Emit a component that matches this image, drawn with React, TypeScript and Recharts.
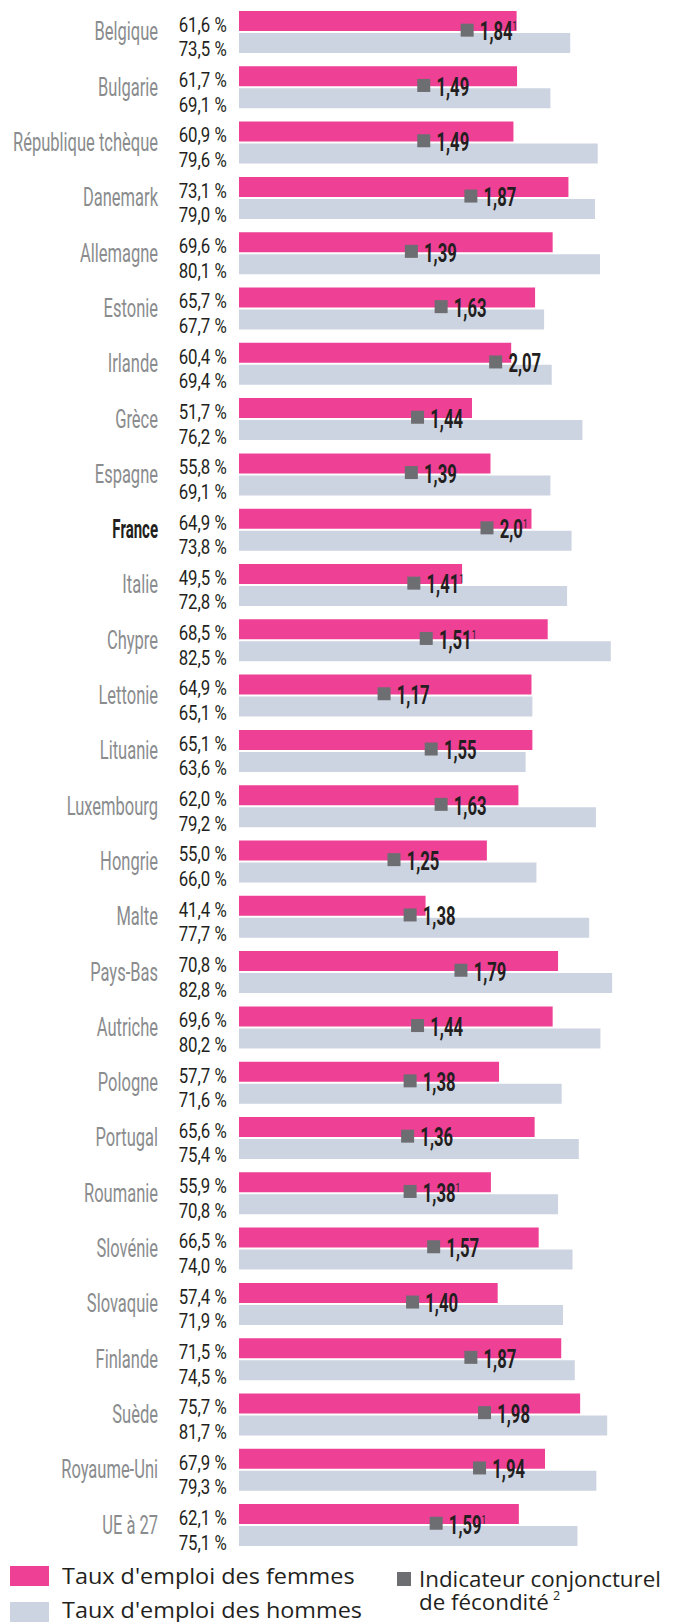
import React from "react";
import { ComposedChart, Bar, Line, XAxis, YAxis, LabelList, Legend } from "recharts";

const countries = ["Belgique","Bulgarie","République tchèque","Danemark","Allemagne","Estonie","Irlande","Grèce","Espagne","France","Italie","Chypre","Lettonie","Lituanie","Luxembourg","Hongrie","Malte","Pays-Bas","Autriche","Pologne","Portugal","Roumanie","Slovénie","Slovaquie","Finlande","Suède","Royaume-Uni","UE à 27"];
const womenRate = [61.6,61.7,60.9,73.1,69.6,65.7,60.4,51.7,55.8,64.9,49.5,68.5,64.9,65.1,62.0,55.0,41.4,70.8,69.6,57.7,65.6,55.9,66.5,57.4,71.5,75.7,67.9,62.1];
const menRate = [73.5,69.1,79.6,79.0,80.1,67.7,69.4,76.2,69.1,73.8,72.8,82.5,65.1,63.6,79.2,66.0,77.7,82.8,80.2,71.6,75.4,70.8,74.0,71.9,74.5,81.7,79.3,75.1];
const fertilityText = ["1,84","1,49","1,49","1,87","1,39","1,63","2,07","1,44","1,39","2,0","1,41","1,51","1,17","1,55","1,63","1,25","1,38","1,79","1,44","1,38","1,36","1,38","1,57","1,40","1,87","1,98","1,94","1,59"];
const fertilityNote = ["1","","","","","","","","","1","1","1","","","","","","","","","","1","","","","","","1"];
const highlighted = "France";

const seriesNames = {
  women: "Taux d'emploi des femmes",
  men: "Taux d'emploi des hommes",
  fert: "Indicateur conjoncturel de fécondité",
};

const data = countries.map((name, i) => ({
  name,
  women: womenRate[i],
  men: menRate[i],
  fert: parseFloat(fertilityText[i].replace(",", ".")),
  fertLabel: fertilityText[i],
  note: fertilityNote[i],
}));

const PINK = "#EE4196";
const GREY = "#CDD4E1";
const MARK = "#6D6E71";
const DARK = "#231F20";
const COND = "Roboto, 'Noto Sans', sans-serif";
const SANS = "'Open Sans', 'Noto Sans', sans-serif";

const fmtPct = (v: number) => v.toFixed(1).replace(".", ",") + " %";

const CategoryTick = (props: any) => {
  const { x, y, payload } = props;
  const bold = payload.value === highlighted;
  return (
    <text transform={`translate(${x},${y + 8.8}) scale(${bold ? 0.6 : 0.66},1)`} textAnchor="end"
      fontFamily={COND} fontSize={25} fontWeight={bold ? 700 : 400} fill={bold ? DARK : "#8A8C8E"}>
      {payload.value}
    </text>
  );
};

const PctLabel = (extra: number) => (props: any) => {
  const { x, y, height, value } = props;
  return (
    <text transform={`translate(${x - 12.3},${y + height + extra}) scale(0.8,1)`} textAnchor="end"
      fontFamily={COND} fontSize={21} fill={DARK}>
      {fmtPct(value)}
    </text>
  );
};

const SquareDot = (props: any) => {
  const { cx, cy, index } = props;
  if (cx == null || cy == null) return <g key={index} />;
  return <rect key={index} x={cx - 6.5} y={cy - 8} width={13} height={13} fill={MARK} />;
};

const FertLabel = (props: any) => {
  const { x, y, index } = props;
  const d = data[index];
  return (
    <text transform={`translate(${x + 12.7},${y + 8.8}) scale(0.64,1)`} fontFamily={COND} fontSize={26}
      fontWeight={700} fill={DARK}>
      {d.fertLabel}
      {d.note ? <tspan fontSize={13} fontWeight={400} dy={-10}>{d.note}</tspan> : null}
    </text>
  );
};

const LegendContent = (props: any) => {
  const payload = props.payload || [];
  const find = (k: string) => payload.find((p: any) => p.dataKey === k);
  const w = find("women");
  const m = find("men");
  const t = (x: number, y: number, s: number) => `translate(${x},${y}) scale(${s},1)`;
  return (
    <svg width={668} height={70} style={{ display: "block" }}>
      <rect x={2} y={10} width={39} height={20} fill={PINK} />
      <text transform={t(54, 28, 1.09)} fontFamily={SANS} fontSize={21.5} fill={DARK}>{w ? w.value : seriesNames.women}</text>
      <rect x={2} y={46} width={39} height={20} fill={GREY} />
      <text transform={t(54, 62, 1.09)} fontFamily={SANS} fontSize={21.5} fill={DARK}>{m ? m.value : seriesNames.men}</text>
      <rect x={389} y={16} width={14} height={14} fill={MARK} />
      <text transform={t(411, 31, 1.04)} fontFamily={SANS} fontSize={21.5} fill={DARK}>
        <tspan x={0} y={0}>Indicateur conjoncturel</tspan>
        <tspan x={0} y={23}>de fécondité</tspan>
        <tspan fontSize={12} dy={-10} dx={4}>2</tspan>
      </text>
    </svg>
  );
};

export default function App() {
  return (
    <div style={{ position: "relative", top: -4 }}>
      <ComposedChart
        layout="vertical"
        width={668}
        height={1618}
        data={data}
        margin={{ top: 0, right: 31.4, bottom: 69.6, left: 0 }}
        barGap={2}
      >
        <XAxis xAxisId="pct" type="number" domain={[0, 90]} hide />
        <XAxis xAxisId="fert" type="number" domain={[0, 3.271]} hide />
        <YAxis
          type="category"
          dataKey="name"
          width={231}
          axisLine={false}
          tickLine={false}
          tickSize={6}
          tickMargin={75}
          interval={0}
          tick={<CategoryTick />}
        />
        <Bar xAxisId="pct" dataKey="women" name={seriesNames.women} fill={PINK} barSize={20} isAnimationActive={false}>
          <LabelList dataKey="women" content={PctLabel(0.8)} />
        </Bar>
        <Bar xAxisId="pct" dataKey="men" name={seriesNames.men} fill={GREY} barSize={20} isAnimationActive={false}>
          <LabelList dataKey="men" content={PctLabel(3.4)} />
        </Bar>
        <Line
          xAxisId="fert"
          dataKey="fert"
          name={seriesNames.fert}
          stroke="none"
          dot={SquareDot}
          activeDot={false}
          isAnimationActive={false}
          legendType="square"
        >
          <LabelList dataKey="fert" content={FertLabel} />
        </Line>
        <Legend
          layout="vertical"
          align="center"
          verticalAlign="middle"
          content={LegendContent}
          wrapperStyle={{ left: 0, top: 1552, width: 668, height: 70 }}
        />
      </ComposedChart>
    </div>
  );
}
